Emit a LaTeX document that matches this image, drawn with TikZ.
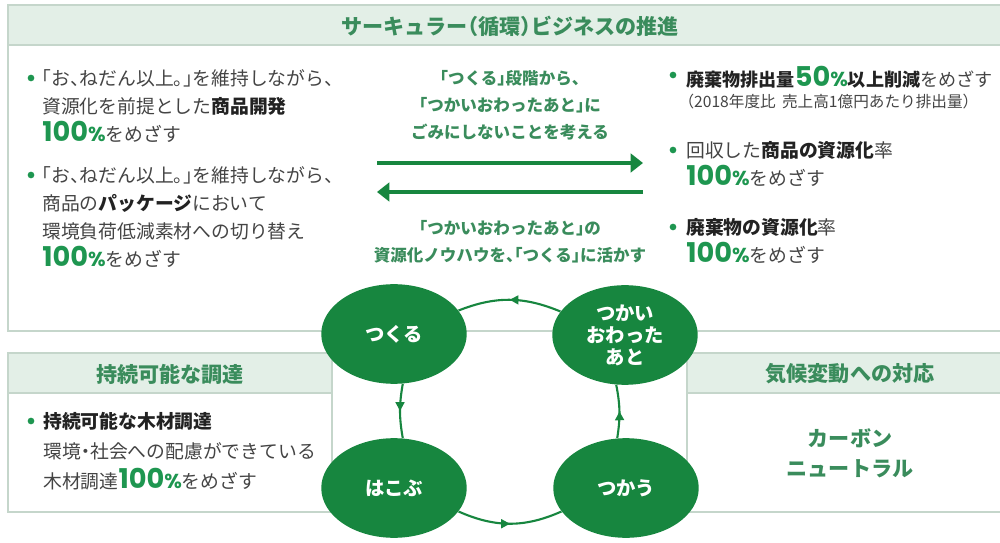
\documentclass[tikz,border=0pt]{standalone}
\usepackage{fontspec}
\setmainfont{Noto Sans CJK JP}[RawFeature=+halt]
\newfontfamily\numfont{Poppins}
\usetikzlibrary{arrows.meta,positioning,decorations.markings,shapes.geometric}
\usepackage{xcolor}

\definecolor{cgreen}{HTML}{17863F}
\definecolor{tgreen}{HTML}{3A8C5C}
\definecolor{ngreen}{HTML}{1E9650}
\definecolor{hdfill}{HTML}{E3EFE7}
\definecolor{frame}{HTML}{C5D6CB}
\definecolor{txt}{HTML}{444444}
\definecolor{btxt}{HTML}{222222}

\newcommand{\pct}[1]{{\numfont\bfseries\color{ngreen}\fontsize{15.5}{15.9}\selectfont#1{\fontsize{11.5}{15.9}\selectfont\%}}}
\newcommand{\bt}[1]{{\bfseries\color{btxt}#1}}

\begin{document}
\begin{tikzpicture}[x=0.02cm,y=-0.02cm]
 \tikzstyle{panel}=[draw=frame, line width=0.6pt]
 \tikzstyle{head}=[fill=hdfill, draw=frame, line width=0.6pt]
 \tikzstyle{title}=[inner sep=0pt, text=tgreen, font=\fontsize{12}{14}\selectfont\bfseries]
 \tikzstyle{item}=[anchor=north west, inner sep=0pt, align=left, text=txt,
                   font=\fontsize{10.7}{15.9}\selectfont]
 \tikzstyle{mid}=[anchor=north, inner sep=0pt, align=center, text=tgreen,
                  font=\fontsize{9.4}{15.3}\selectfont\bfseries]
 \tikzstyle{dot}=[circle, fill=ngreen, inner sep=0pt, minimum size=3.8pt]
 \tikzstyle{stage}=[ellipse, fill=cgreen, text=white, inner sep=0pt,
                    minimum width=82.8pt, minimum height=56.7pt, align=center,
                    font=\fontsize{11}{12.5}\selectfont\bfseries]
 \tikzstyle{bigarrow}=[draw=cgreen, line width=2.8pt, -{Triangle[length=7pt,width=10.5pt]}]
 \tikzstyle{cyc}=[draw=cgreen, line width=1.2pt, postaction={decorate},
                  decoration={markings, mark=at position 0.5 with {\arrow{Triangle[length=5pt,width=5pt]}}}]

 \useasboundingbox (0,0) rectangle (1000,543);

 % panels
 \draw[panel] (8,5) rectangle (1012,331);
 \draw[head] (8,5) rectangle (1012,45);
 \node[title] (ttop) at (510,26) {サーキュラー（循環）ビジネスの推進};

 \draw[panel] (8,353) rectangle (332,512);
 \draw[head] (8,353) rectangle (332,393);
 \node[title] (tleft) at (170,374) {持続可能な調達};

 \draw[panel] (687,353) rectangle (1012,512);
 \draw[head] (687,353) rectangle (1012,393);
 \node[title] (tright) at (850,374) {気候変動への対応};

 % left column
 \node[dot] (d1) at (31,78) {};
 \node[item] (l1) at (42,69) {「お、ねだん以上。」を維持しながら、\\資源化を前提とした\bt{商品開発}\\\pct{100}をめざす};
 \node[dot] (d2) at (31,175) {};
 \node[item] (l2) at (42,166) {「お、ねだん以上。」を維持しながら、\\商品の\bt{パッケージ}において\\環境負荷低減素材への切り替え\\\pct{100}をめざす};

 % middle
 \node[mid] (m1) at (510,70) {「つくる」段階から、\\「つかいおわったあと」に\\ごみにしないことを考える};
 \coordinate (ra) at (377,163);
 \coordinate (rb) at (643,163);
 \coordinate (la) at (643,192);
 \coordinate (lb) at (377,192);
 \draw[bigarrow] (ra) -- (rb);
 \draw[bigarrow] (la) -- (lb);
 \node[mid] (m2) at (510,220) {「つかいおわったあと」の\\資源化ノウハウを、「つくる」に活かす};

 % right column
 \node[dot] (d3) at (673,75) {};
 \node[item, font=\fontsize{10.3}{15.9}\selectfont] (r1) at (686,66) {\bt{廃棄物排出量}\pct{50}\bt{以上削減}をめざす};
 \node[item, font=\fontsize{8.9}{10}\selectfont] (r1n) at (686,94) {（2018年度比\hspace{0.4em}売上高1億円あたり排出量）};
 \node[dot] (d4) at (673,150) {};
 \node[item] (r2) at (686,141) {回収した\bt{商品の資源化}率\\\pct{100}をめざす};
 \node[dot] (d5) at (673,227) {};
 \node[item] (r3) at (686,218) {\bt{廃棄物の資源化}率\\\pct{100}をめざす};

 % bottom boxes
 \node[dot] (d6) at (31,421) {};
 \node[item, font=\fontsize{10.7}{17}\selectfont] (lb1) at (43,412) {\bt{持続可能な木材調達}\\環境・社会への配慮ができている\\木材調達\pct{100}をめざす};
 \node[title, align=center, font=\fontsize{12}{17}\selectfont\bfseries] (cn) at (850,453) {カーボン\\ニュートラル};

 % cycle
 \node[stage] (tsukuru) at (394,334) {つくる};
 \node[stage] (hakobu) at (394,488) {はこぶ};
 \node[stage] (tsukau) at (626,488) {つかう};
 \node[stage] (owatta) at (625,335) {つかい\\おわった\\あと};

 \path (tsukuru.-80) edge[cyc, bend right=10] (hakobu.80)
       (hakobu.-20) edge[cyc, bend right=24] (tsukau.200)
       (tsukau.100) edge[cyc, bend right=10] (owatta.-100)
       (owatta.160) edge[cyc, bend right=22] (tsukuru.20);
\end{tikzpicture}
\end{document}
